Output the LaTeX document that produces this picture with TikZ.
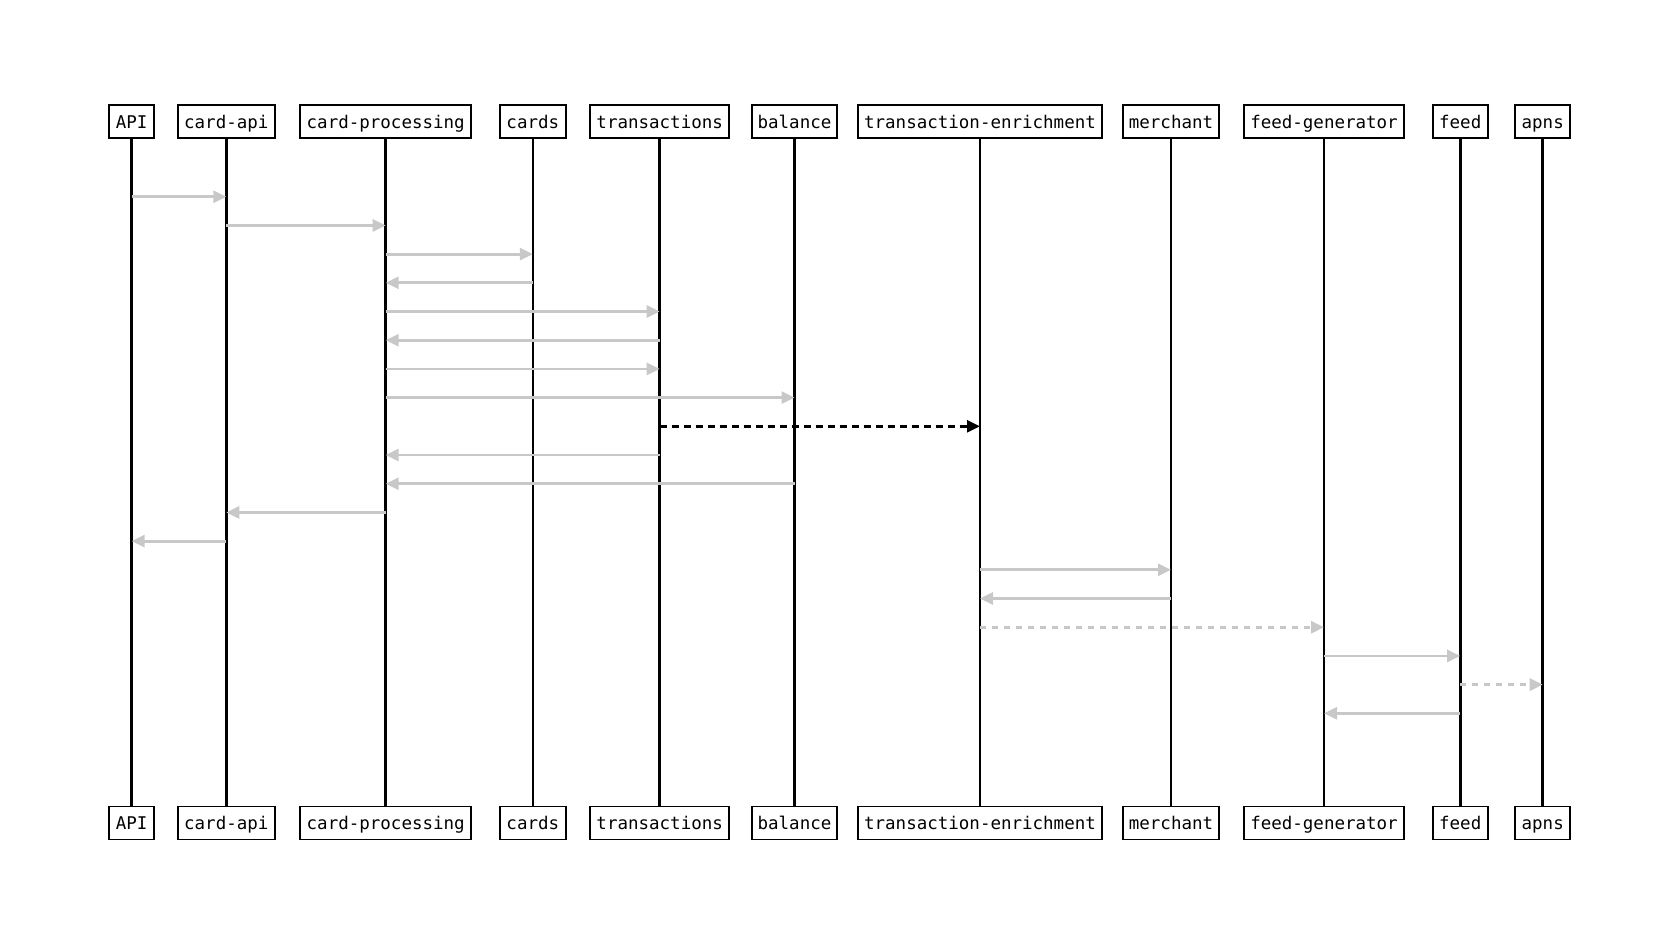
\documentclass[tikz,border=0pt]{standalone}
\usepackage{fontspec}
\setmonofont{DejaVu Sans Mono}
\usetikzlibrary{arrows.meta}
\definecolor{msggray}{RGB}{200,200,200}
\begin{document}
\begin{tikzpicture}[x=1pt,y=-1pt,
  actor/.style={draw=black, line width=1.8pt, fill=white, inner sep=0pt,
    minimum height=33pt, font=\fontsize{17.5}{19}\selectfont\ttfamily,
    text height=13pt, text depth=0pt},
  life/.style={draw=black, line width=2.6pt},
  msg/.style={draw=msggray, line width=2.8pt, -{Triangle[length=13pt,width=12pt]}},
  dmsg/.style={msg, dash pattern=on 6pt off 6pt},
  bmsg/.style={draw=black, line width=2.8pt, dash pattern=on 7pt off 5pt, -{Triangle[length=13pt,width=12pt]}}]
\useasboundingbox (0,0) rectangle (1680,945);
\fill[white] (0,0) rectangle (1680,945);
% actors: name, x, width, label
\foreach \n/\x/\w/\t in {api/131.7/44.7/API, capi/226.3/97.3/card-api, cproc/385.7/170.7/card-processing,
  cards/532.8/65.7/cards, trans/659.7/139.3/transactions, bal/794.5/85.3/balance,
  tenr/980/244.2/transaction-enrichment, merch/1171/96.6/merchant, fgen/1324/160/feed-generator,
  feed/1460.2/55/feed, apns/1542.7/54.7/apns}{
  \node[actor, minimum width=\w pt] (\n) at (\x,121.7) {\t};
  \node[actor, minimum width=\w pt] (\n-b) at (\x,823) {\t};
  \draw[life] (\n.south) -- (\n-b.north);
}
% row coordinates
\foreach \i in {0,...,18}{
  \coordinate (r\i) at (0,196.7+28.7*\i);
}
\draw[msg] (api |- r0) -- (capi |- r0);
\draw[msg] (capi |- r1) -- (cproc |- r1);
\draw[msg] (cproc |- r2) -- (cards |- r2);
\draw[msg] (cards |- r3) -- (cproc |- r3);
\draw[msg] (cproc |- r4) -- (trans |- r4);
\draw[msg] (trans |- r5) -- (cproc |- r5);
\draw[msg] (cproc |- r6) -- (trans |- r6);
\draw[msg] (cproc |- r7) -- (bal |- r7);
\draw[bmsg] (trans |- r8) -- (tenr |- r8);
\draw[msg] (trans |- r9) -- (cproc |- r9);
\draw[msg] (bal |- r10) -- (cproc |- r10);
\draw[msg] (cproc |- r11) -- (capi |- r11);
\draw[msg] (capi |- r12) -- (api |- r12);
\draw[msg] (tenr |- r13) -- (merch |- r13);
\draw[msg] (merch |- r14) -- (tenr |- r14);
\draw[dmsg] (tenr |- r15) -- (fgen |- r15);
\draw[msg] (fgen |- r16) -- (feed |- r16);
\draw[dmsg] (feed |- r17) -- (apns |- r17);
\draw[msg] (feed |- r18) -- (fgen |- r18);
\end{tikzpicture}
\end{document}
